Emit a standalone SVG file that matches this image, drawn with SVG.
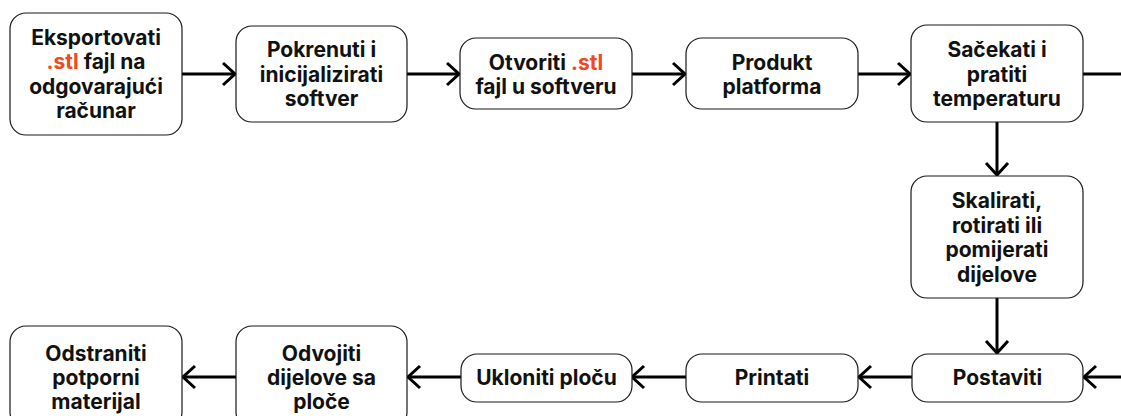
<svg xmlns="http://www.w3.org/2000/svg" width="1121" height="416" viewBox="0 0 1121 416">
<style>
.box{fill:#fff;stroke:#1a1a1a;stroke-width:1.2}
.t{font-family:Inter,"Liberation Sans",sans-serif;font-weight:700;font-size:21px;text-anchor:middle;fill:#111}
.o{fill:#F24822}
.c{fill:none;stroke:#000;stroke-width:3}
</style>
<defs>
<marker id="ah" markerUnits="userSpaceOnUse" viewBox="-14 -13 16 26" refX="0" refY="0" markerWidth="16" markerHeight="26" orient="auto">
<path d="M-12,-11 L0,0 L-12,11" fill="none" stroke="#000" stroke-width="3"/>
</marker>
</defs>
<rect width="1121" height="416" fill="#fff"/>
<g id="connectors">
<line class="c" x1="182" y1="74" x2="235" y2="74" marker-end="url(#ah)"/>
<line class="c" x1="407" y1="74" x2="459" y2="74" marker-end="url(#ah)"/>
<line class="c" x1="632" y1="74" x2="685" y2="74" marker-end="url(#ah)"/>
<line class="c" x1="858" y1="74" x2="910" y2="74" marker-end="url(#ah)"/>
<line class="c" x1="1083" y1="74" x2="1121" y2="74"/>
<line class="c" x1="997" y1="122" x2="997" y2="175" marker-end="url(#ah)"/>
<line class="c" x1="997" y1="298" x2="997" y2="353" marker-end="url(#ah)"/>
<line class="c" x1="1121" y1="377" x2="1084" y2="377" marker-end="url(#ah)"/>
<line class="c" x1="912" y1="377" x2="859" y2="377" marker-end="url(#ah)"/>
<line class="c" x1="686" y1="377" x2="632" y2="377" marker-end="url(#ah)"/>
<line class="c" x1="461" y1="377" x2="408" y2="377" marker-end="url(#ah)"/>
<line class="c" x1="236" y1="377" x2="183" y2="377" marker-end="url(#ah)"/>
</g>
<g id="n1">
<rect class="box" x="10" y="13" width="172" height="122" rx="16"/>
<text class="t"><tspan x="96" y="44.5">Eksportovati</tspan><tspan x="96" y="69"><tspan class="o">.stl</tspan> fajl na</tspan><tspan x="96" y="93.5">odgovarajući</tspan><tspan x="96" y="118">računar</tspan></text>
</g>
<g id="n2">
<rect class="box" x="236" y="26" width="171" height="96" rx="16"/>
<text class="t"><tspan x="321.5" y="57">Pokrenuti i</tspan><tspan x="321.5" y="81.5">inicijalizirati</tspan><tspan x="321.5" y="106">softver</tspan></text>
</g>
<g id="n3">
<rect class="box" x="460" y="38" width="172" height="71" rx="16"/>
<text class="t"><tspan x="546" y="69.5">Otvoriti <tspan class="o">.stl</tspan></tspan><tspan x="546" y="94">fajl u softveru</tspan></text>
</g>
<g id="n4">
<rect class="box" x="686" y="38" width="172" height="71" rx="16"/>
<text class="t"><tspan x="772" y="69.5">Produkt</tspan><tspan x="772" y="94">platforma</tspan></text>
</g>
<g id="n5">
<rect class="box" x="911" y="25" width="172" height="97" rx="16"/>
<text class="t"><tspan x="997" y="57">Sačekati i</tspan><tspan x="997" y="81.5">pratiti</tspan><tspan x="997" y="106">temperaturu</tspan></text>
</g>
<g id="n6">
<rect class="box" x="911" y="176" width="172" height="122" rx="16"/>
<text class="t"><tspan x="997" y="208">Skalirati,</tspan><tspan x="997" y="232.5">rotirati ili</tspan><tspan x="997" y="257">pomijerati</tspan><tspan x="997" y="281.5">dijelove</tspan></text>
</g>
<g id="n7">
<rect class="box" x="912" y="354" width="171" height="48" rx="16"/>
<text class="t"><tspan x="997.5" y="385">Postaviti</tspan></text>
</g>
<g id="n8">
<rect class="box" x="686" y="354" width="172" height="48" rx="16"/>
<text class="t"><tspan x="772" y="385">Printati</tspan></text>
</g>
<g id="n9">
<rect class="box" x="461" y="354" width="171" height="48" rx="16"/>
<text class="t"><tspan x="546.5" y="385">Ukloniti ploču</tspan></text>
</g>
<g id="n10">
<rect class="box" x="236" y="326" width="171" height="102" rx="16"/>
<text class="t"><tspan x="321.5" y="360.5">Odvojiti</tspan><tspan x="321.5" y="384.5">dijelove sa</tspan><tspan x="321.5" y="408.5">ploče</tspan></text>
</g>
<g id="n11">
<rect class="box" x="10" y="326" width="172" height="102" rx="16"/>
<text class="t"><tspan x="96" y="360.5">Odstraniti</tspan><tspan x="96" y="384.5">potporni</tspan><tspan x="96" y="408.5">materijal</tspan></text>
</g>
</svg>
